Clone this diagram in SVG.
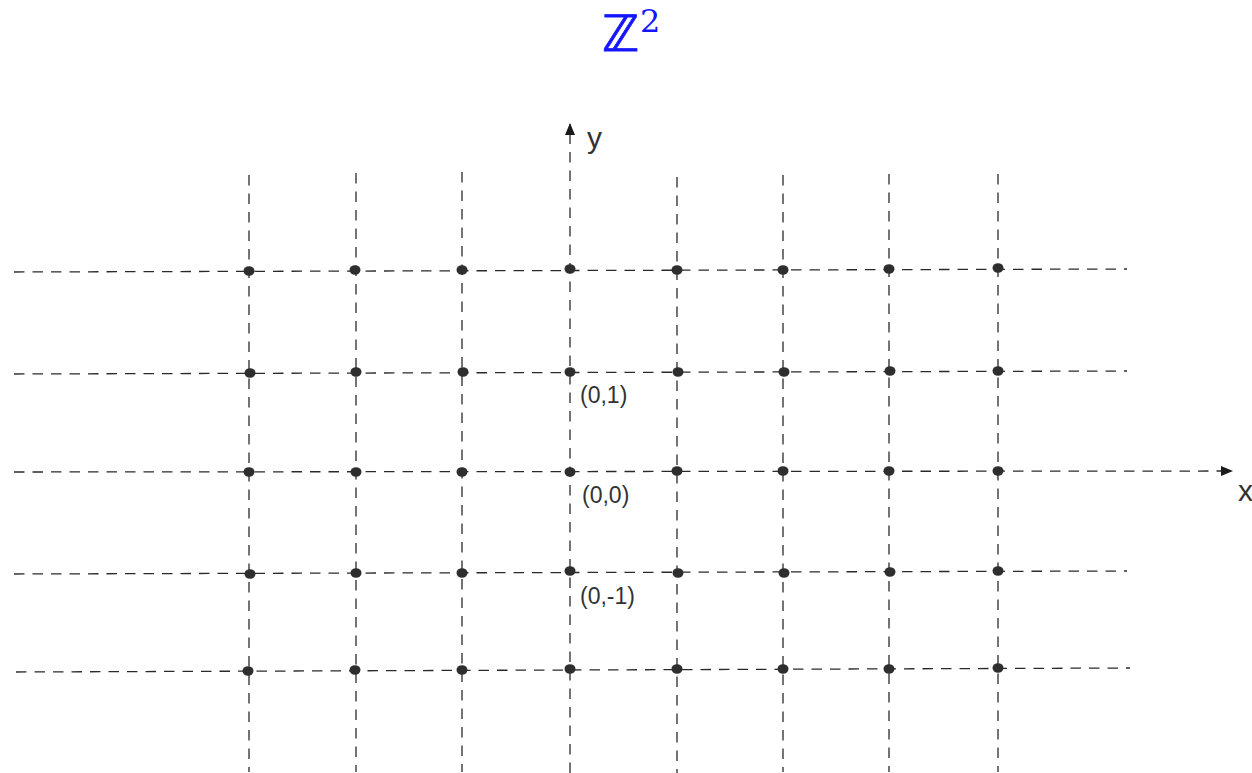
<svg xmlns="http://www.w3.org/2000/svg" width="1252" height="773" viewBox="0 0 1252 773">
<style>
.g{stroke:#2a2a2a;stroke-width:1.3;stroke-dasharray:10.5 8;fill:none}
.d{fill:#2e2e2e}
.lbl{font-family:"Liberation Sans",Arial,sans-serif;fill:#333}
</style>
<defs>
<marker id="ah" markerWidth="12" markerHeight="10" refX="11" refY="5" orient="auto" markerUnits="userSpaceOnUse">
<path d="M0,0 L12,5 L0,10 z" fill="#1a1a1a"/>
</marker>
</defs>
<rect width="1252" height="773" fill="#fff"/>
<g id="title">
<text x="602" y="51" font-family="DejaVu Sans,sans-serif" font-size="50" fill="#1515ff" stroke="#1515ff" stroke-width="0.8">ℤ</text>
<text x="640" y="32" font-family="DejaVu Serif,serif" font-size="32" fill="#1515ff">2</text>
</g>
<g id="connectors">
<line class="g" x1="14" y1="272" x2="1127" y2="269"/>
<line class="g" x1="14" y1="374" x2="1127" y2="371"/>
<line class="g" x1="14" y1="472" x2="1232" y2="471" marker-end="url(#ah)"/>
<line class="g" x1="14" y1="574" x2="1127" y2="571"/>
<line class="g" x1="16" y1="672" x2="1130" y2="668"/>
<line class="g" x1="249" y1="175" x2="249" y2="772"/>
<line class="g" x1="356" y1="173" x2="356" y2="772"/>
<line class="g" x1="462" y1="172" x2="462" y2="772"/>
<line class="g" x1="570" y1="773" x2="570" y2="124" marker-end="url(#ah)"/>
<line class="g" x1="677" y1="177" x2="677" y2="773"/>
<line class="g" x1="783" y1="175" x2="783" y2="772"/>
<line class="g" x1="889" y1="174" x2="889" y2="772"/>
<line class="g" x1="998" y1="174" x2="998" y2="772"/>
</g>
<g id="points">
<ellipse class="d" cx="249" cy="271" rx="5.5" ry="4.8"/><ellipse class="d" cx="355" cy="270" rx="5.5" ry="4.8"/><ellipse class="d" cx="462" cy="270" rx="5.5" ry="4.8"/><ellipse class="d" cx="570" cy="269" rx="5.5" ry="4.8"/><ellipse class="d" cx="677" cy="270" rx="5.5" ry="4.8"/><ellipse class="d" cx="783" cy="270" rx="5.5" ry="4.8"/><ellipse class="d" cx="889" cy="269" rx="5.5" ry="4.8"/><ellipse class="d" cx="998" cy="268" rx="5.5" ry="4.8"/>
<ellipse class="d" cx="250" cy="373" rx="5.5" ry="4.8"/><ellipse class="d" cx="356" cy="372" rx="5.5" ry="4.8"/><ellipse class="d" cx="463" cy="372" rx="5.5" ry="4.8"/><ellipse class="d" cx="570" cy="372" rx="5.5" ry="4.8"/><ellipse class="d" cx="678" cy="372" rx="5.5" ry="4.8"/><ellipse class="d" cx="784" cy="372" rx="5.5" ry="4.8"/><ellipse class="d" cx="890" cy="371" rx="5.5" ry="4.8"/><ellipse class="d" cx="998" cy="371" rx="5.5" ry="4.8"/>
<ellipse class="d" cx="249" cy="472" rx="5.5" ry="4.8"/><ellipse class="d" cx="356" cy="472" rx="5.5" ry="4.8"/><ellipse class="d" cx="462" cy="472" rx="5.5" ry="4.8"/><ellipse class="d" cx="570" cy="472" rx="5.5" ry="4.8"/><ellipse class="d" cx="677" cy="471" rx="5.5" ry="4.8"/><ellipse class="d" cx="783" cy="471" rx="5.5" ry="4.8"/><ellipse class="d" cx="889" cy="471" rx="5.5" ry="4.8"/><ellipse class="d" cx="998" cy="471" rx="5.5" ry="4.8"/>
<ellipse class="d" cx="250" cy="574" rx="5.5" ry="4.8"/><ellipse class="d" cx="356" cy="573" rx="5.5" ry="4.8"/><ellipse class="d" cx="462" cy="573" rx="5.5" ry="4.8"/><ellipse class="d" cx="570" cy="571" rx="5.5" ry="4.8"/><ellipse class="d" cx="678" cy="573" rx="5.5" ry="4.8"/><ellipse class="d" cx="784" cy="573" rx="5.5" ry="4.8"/><ellipse class="d" cx="890" cy="572" rx="5.5" ry="4.8"/><ellipse class="d" cx="998" cy="571" rx="5.5" ry="4.8"/>
<ellipse class="d" cx="248" cy="671" rx="5.5" ry="4.8"/><ellipse class="d" cx="355" cy="670" rx="5.5" ry="4.8"/><ellipse class="d" cx="462" cy="670" rx="5.5" ry="4.8"/><ellipse class="d" cx="570" cy="669" rx="5.5" ry="4.8"/><ellipse class="d" cx="677" cy="669" rx="5.5" ry="4.8"/><ellipse class="d" cx="783" cy="669" rx="5.5" ry="4.8"/><ellipse class="d" cx="889" cy="669" rx="5.5" ry="4.8"/><ellipse class="d" cx="998" cy="668" rx="5.5" ry="4.8"/>
</g>
<g id="labels">
<text class="lbl" x="587" y="148" font-size="30">y</text>
<text class="lbl" x="1238" y="501" font-size="30">x</text>
<text class="lbl" x="580" y="403" font-size="23">(0,1)</text>
<text class="lbl" x="582" y="503" font-size="23">(0,0)</text>
<text class="lbl" x="580" y="604" font-size="23">(0,-1)</text>
</g>
</svg>
